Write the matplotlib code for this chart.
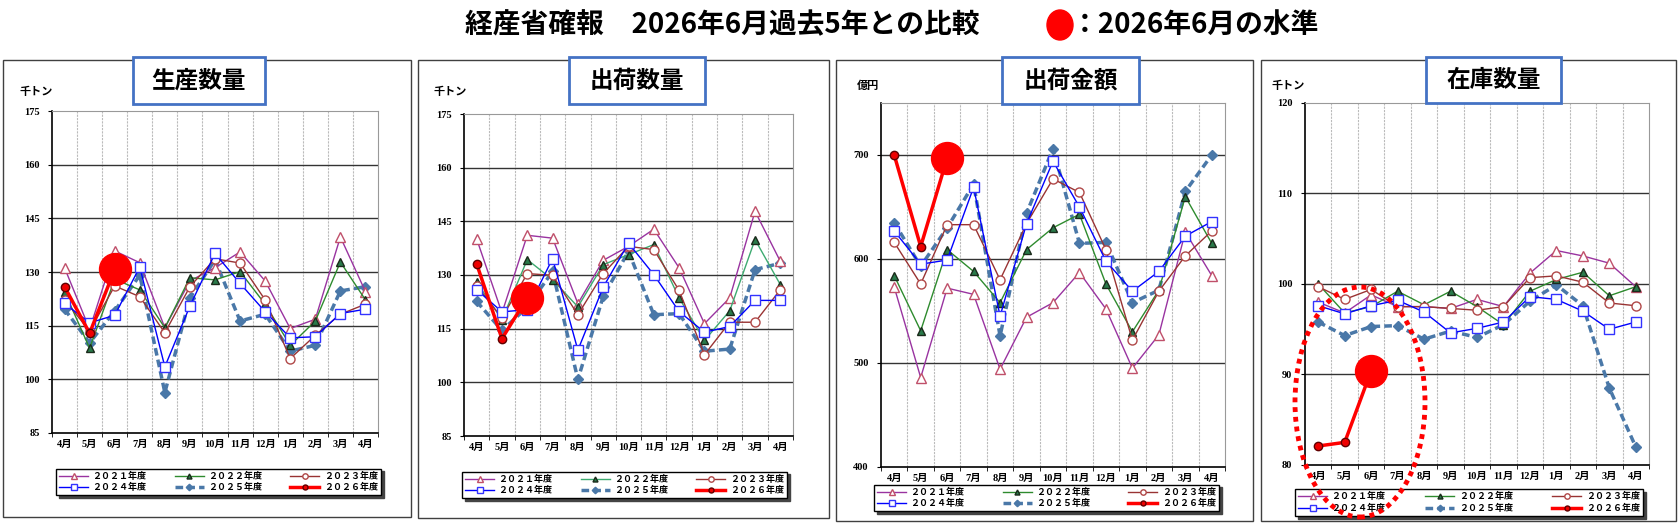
import numpy as np
import matplotlib.pyplot as plt
from matplotlib.patches import Rectangle, Ellipse

plt.rcParams['font.family'] = ['Noto Sans CJK JP', 'DejaVu Sans']

W, H = 1678, 523

months = ['4月', '5月', '6月', '7月', '8月', '9月', '10月', '11月', '12月',
          '1月', '2月', '3月', '4月']
years = ['２０２１年度', '２０２２年度', '２０２３年度',
         '２０２４年度', '２０２５年度', '２０２６年度']

# 生産数量 (千トン)
p1_2021 = [131.2, 114.0, 135.9, 132.6, 114.4, 127.5, 131.2, 135.6, 127.5, 114.2, 116.8, 139.8, 124.5]
p1_2022 = [124.5, 108.7, 128.0, 125.0, 114.4, 128.4, 127.8, 130.1, 121.0, 109.5, 116.3, 132.8, 122.2]
p1_2023 = [122.2, 113.5, 126.1, 123.1, 113.0, 125.9, 133.7, 132.5, 122.2, 105.8, 112.3, 118.2, 121.0]
p1_2024 = [121.2, 115.8, 117.9, 131.4, 103.5, 120.5, 135.2, 126.8, 118.9, 111.6, 111.9, 118.4, 119.6]
p1_2025 = [119.6, 110.2, 119.1, 129.1, 96.3, 122.8, 133.4, 116.3, 118.2, 107.9, 109.5, 124.7, 125.9]
p1_2026 = [125.9, 112.9, 130.7]

# 出荷数量 (千トン)
p2_2021 = [140.1, 119.4, 141.1, 140.3, 122.0, 134.1, 138.0, 142.8, 132.0, 116.4, 123.6, 147.8, 133.8]
p2_2022 = [128.0, 117.5, 134.3, 128.7, 121.1, 132.9, 135.7, 138.5, 123.6, 111.7, 120.0, 139.9, 127.3]
p2_2023 = [127.0, 118.0, 130.4, 129.9, 118.9, 130.4, 138.0, 137.1, 125.7, 107.7, 116.8, 116.8, 125.9]
p2_2024 = [125.9, 119.7, 120.3, 134.6, 109.0, 126.6, 138.9, 130.1, 119.8, 114.0, 115.6, 122.9, 122.9]
p2_2025 = [122.6, 114.5, 121.0, 131.0, 100.8, 124.0, 136.6, 118.9, 119.2, 108.7, 109.3, 131.5, 133.3]
p2_2026 = [133.1, 112.2, 123.7]

# 出荷金額 (億円)
p3_2021 = [573, 486, 572, 566, 494, 544, 558, 587, 552, 495, 527, 626, 584]
p3_2022 = [584, 531, 609, 588, 558, 609, 630, 643, 576, 530, 570, 660, 615]
p3_2023 = [616, 576, 633, 633, 580, 634, 677, 664, 609, 522, 569, 603, 627]
p3_2024 = [627, 595, 599, 669, 545, 634, 694, 650, 598, 569, 588, 622, 636]
p3_2025 = [635, 593, 630, 672, 526, 644, 706, 615, 616, 558, 570, 665, 700]
p3_2026 = [700, 612, 697]

# 在庫数量 (千トン)
p4_2021 = [98.0, 96.8, 98.8, 97.5, 97.5, 97.3, 98.3, 97.5, 101.2, 103.7, 103.1, 102.3, 99.7]
p4_2022 = [100.0, 96.8, 97.5, 99.2, 97.7, 99.2, 97.5, 95.5, 99.2, 100.5, 101.3, 98.7, 99.7]
p4_2023 = [99.7, 98.3, 99.4, 97.5, 97.5, 97.3, 97.1, 97.5, 100.7, 100.9, 100.2, 97.9, 97.6]
p4_2024 = [97.6, 96.7, 97.6, 98.2, 96.9, 94.6, 95.1, 95.8, 98.6, 98.3, 97.0, 95.0, 95.8]
p4_2025 = [95.8, 94.3, 95.3, 95.4, 93.9, 94.8, 94.1, 95.5, 98.1, 99.9, 97.6, 88.5, 82.0]
p4_2026 = [82.1, 82.5, 90.4]


def frac(x0, y0, x1, y1):
    # pixel box (top-left origin) -> figure fraction rect
    return [x0 / W, 1 - y1 / H, (x1 - x0) / W, (y1 - y0) / H]


panels = [
    dict(name='生産数量', unit='千トン', data=[p1_2021, p1_2022, p1_2023, p1_2024, p1_2025, p1_2026],
         frame=(3, 60, 411, 517), plot=(52, 111, 378, 433), box=(133, 57, 265, 104),
         unitpos=(20, 92), legend=(56, 468, 381, 496), ylim=(85, 175), step=15, green='#2E8B2E'),
    dict(name='出荷数量', unit='千トン', data=[p2_2021, p2_2022, p2_2023, p2_2024, p2_2025, p2_2026],
         frame=(418, 60, 829, 518), plot=(464, 114, 793, 436), box=(569, 57, 705, 104),
         unitpos=(433, 92), legend=(462, 472, 787, 498), ylim=(85, 175), step=15, green='#3DAA70'),
    dict(name='出荷金額', unit='億円', data=[p3_2021, p3_2022, p3_2023, p3_2024, p3_2025, p3_2026],
         frame=(836, 60, 1253, 521), plot=(881, 103, 1225, 467), box=(1002, 57, 1139, 104),
         unitpos=(857, 86), legend=(874, 484, 1219, 512), ylim=(400, 750), step=100, green='#2E8B2E'),
    dict(name='在庫数量', unit='千トン', data=[p4_2021, p4_2022, p4_2023, p4_2024, p4_2025, p4_2026],
         frame=(1261, 60, 1676, 521), plot=(1305, 103, 1649, 465), box=(1426, 57, 1561, 103),
         unitpos=(1272, 86), legend=(1295, 488, 1643, 517), ylim=(80, 120), step=10, green='#2E8B2E'),
]

tick_font = ['Liberation Serif', 'Noto Sans CJK JP']

fig = plt.figure(figsize=(W / 100, H / 100), dpi=100)

for p in panels:
    fig.add_artist(Rectangle(frac(*p['frame'])[:2], *frac(*p['frame'])[2:], transform=fig.transFigure,
                             fill=False, edgecolor='#404040', lw=1.0, zorder=1))
    bx = frac(*p['box'])
    fig.add_artist(Rectangle(bx[:2], bx[2], bx[3], transform=fig.transFigure,
                             facecolor='white', edgecolor='#4472C4', lw=2, zorder=3))
    fig.text(bx[0] + bx[2] / 2, bx[1] + bx[3] / 2, p['name'], ha='center', va='center',
             fontsize=17, fontweight='bold', zorder=5)
    fig.text(p['unitpos'][0] / W, 1 - p['unitpos'][1] / H, p['unit'], ha='left', va='center',
             fontsize=8, fontweight='bold')

    ax = fig.add_axes(frac(*p['plot']))
    x = np.arange(len(months))
    d = p['data']
    styles = [
        dict(color='#9933A0', lw=1.0, marker='^', ms=6.5, mfc='white', mec='#C0506A', zorder=4),
        dict(color=p['green'], lw=1.0, marker='^', ms=6, mfc='#2A7A4A', mec='#1A2A1A', zorder=4),
        dict(color='#993333', lw=1.0, marker='o', ms=6.5, mfc='white', mec='#B04848', zorder=4),
        dict(color='#0000FF', lw=1.0, marker='s', ms=6.5, mfc='white', mec='#3333FF', zorder=5),
        dict(color='#4A78A8', lw=2.5, ls=(0, (2.2, 1.2)), marker='D', ms=5.5, mfc='#4A78A8',
             mec='#4A78A8', zorder=3),
        dict(color='#FF0000', lw=2.5, marker='o', ms=6, mfc='#EE0000', mec='#600000', zorder=6),
    ]
    handles = []
    for vals, lab, st in zip(d, years, styles):
        h, = ax.plot(x[:len(vals)], vals, label=lab, **st)
        handles.append(h)
    # current month level
    ax.plot(x[len(d[5]) - 1], d[5][-1], 'o', color='#FF0000', ms=23, zorder=7)

    lo, hi = p['ylim']
    ax.set_xlim(-0.5, len(months) - 0.5)
    ax.set_ylim(lo, hi)
    ax.set_yticks(np.arange(lo, hi + 0.1, p['step']))
    ax.set_xticks(x)
    ax.set_xticklabels(months)
    ax.set_xticks(np.arange(-0.5, len(months)), minor=True)
    ax.tick_params(axis='x', which='major', length=0, pad=5)
    ax.tick_params(axis='x', which='minor', length=3, direction='out')
    ax.tick_params(axis='y', length=3, direction='out', pad=6)
    for lbl in ax.get_xticklabels() + ax.get_yticklabels():
        lbl.set_family(tick_font)
        lbl.set_fontsize(7.5)
        lbl.set_fontweight('bold')
    for yv in np.arange(lo + p['step'], hi, p['step']):
        ax.axhline(yv, color='#333333', lw=1.0, zorder=1)
    for xv in np.arange(0.5, len(months) - 1):
        ax.axvline(xv, color='#BBBBBB', lw=0.8, ls=(0, (2, 1)), zorder=0.5)
    for s in ['top', 'right']:
        ax.spines[s].set_color('#999999')
    for s in ['left', 'bottom']:
        ax.spines[s].set_color('black')
        ax.spines[s].set_linewidth(1.2)

    order = [0, 3, 1, 4, 2, 5]
    leg = ax.legend([handles[i] for i in order], [years[i] for i in order], ncol=3,
                    bbox_to_anchor=frac(*p['legend']), bbox_transform=fig.transFigure,
                    loc='center', mode='expand', borderaxespad=0, fontsize=6.5,
                    handlelength=3.2, handletextpad=0.5, columnspacing=1.5,
                    labelspacing=0.25, borderpad=0.35, fancybox=False, markerscale=0.6,
                    shadow={'color': '#444444', 'alpha': 1.0}, framealpha=1)
    leg.get_frame().set_edgecolor('black')
    leg.get_frame().set_linewidth(1.0)
    for t in leg.get_texts():
        t.set_fontweight('bold')

# main title
fig.text(465 / W, 1 - 25 / H, '経産省確報　2026年6月過去5年との比較', ha='left', va='center',
         fontsize=20, fontweight='bold')
fig.add_artist(Ellipse((1060 / W, 1 - 25 / H), 26 / W, 30 / H, transform=fig.transFigure,
                       color='#FF0000', zorder=5))
fig.text(1071 / W, 1 - 25 / H, '：2026年6月の水準', ha='left', va='center',
         fontsize=20, fontweight='bold')

# red dotted ring on 在庫数量
fig.add_artist(Ellipse((1360 / W, 1 - 402 / H), 130 / W, 230 / H, transform=fig.transFigure,
                       fill=False, edgecolor='#FF0000', lw=3.5, ls=(0, (1, 1)), zorder=10))

fig.savefig('out.png', dpi=100, facecolor='white')
